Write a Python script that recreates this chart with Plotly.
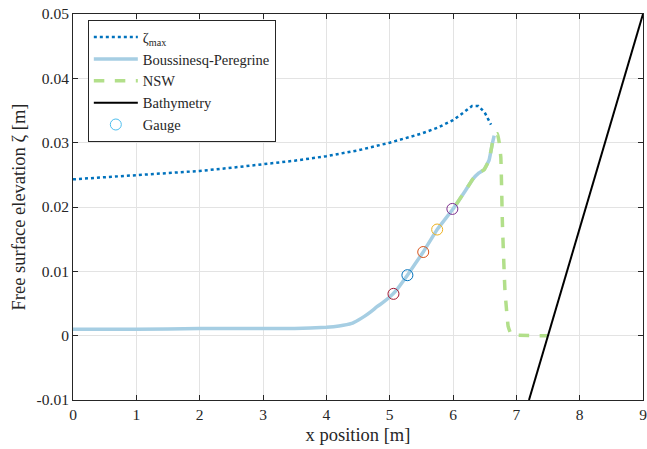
import plotly.graph_objects as go

# zeta_max envelope
zeta_x = [0, 0.5, 1, 1.5, 2, 2.5, 3, 3.5, 4, 4.5, 5, 5.25, 5.5, 5.75, 6.0, 6.1, 6.2, 6.3, 6.4, 6.5, 6.6]
zeta_y = [0.0243, 0.0246, 0.0249, 0.0252, 0.0256, 0.0261, 0.0266, 0.0272, 0.0279, 0.0288, 0.0300, 0.0307,
          0.0314, 0.0323, 0.0335, 0.0342, 0.0350, 0.0357, 0.0357, 0.0347, 0.0328]

# Boussinesq-Peregrine
bp_x = [0, 1, 2, 3, 3.5, 4, 4.2, 4.4, 4.5, 4.6, 4.7, 4.8, 4.9, 5.0, 5.1, 5.28, 5.53, 5.75, 6.0, 6.2,
        6.31, 6.41, 6.49, 6.57, 6.62, 6.65]
bp_y = [0.0010, 0.0010, 0.0011, 0.0011, 0.0011, 0.0013, 0.0015, 0.0019, 0.0024, 0.0030, 0.0037, 0.0045,
        0.0052, 0.0060, 0.0070, 0.0094, 0.0130, 0.0165, 0.0197, 0.0226, 0.0243, 0.0253, 0.0258, 0.0273,
        0.0298, 0.0311]

# NSW
nsw_x = [6.05, 6.2, 6.31, 6.41, 6.49, 6.57, 6.62, 6.66, 6.70, 6.73, 6.755, 6.78, 6.82, 6.85, 6.87, 6.91,
         6.96, 7.49]
nsw_y = [0.0204, 0.0226, 0.0243, 0.0253, 0.0258, 0.0273, 0.0298, 0.0312, 0.0314, 0.0300, 0.0277, 0.0175,
         0.0071, 0.0035, 0.0015, 0.0004, 0.0001, 0.0]

# Bathymetry
bathy_x = [7.20, 9.0]
bathy_y = [-0.01, 0.05]

# Gauges
gauge_x = [5.06, 5.28, 5.53, 5.75, 5.99]
gauge_y = [0.0065, 0.0094, 0.0130, 0.0165, 0.0197]
gauge_colors = ["#A2142F", "#0072BD", "#D95319", "#EDB120", "#7E2F8E"]

x_ticks = [0, 1, 2, 3, 4, 5, 6, 7, 8, 9]
y_ticks = [-0.01, 0, 0.01, 0.02, 0.03, 0.04, 0.05]
y_ticklabels = ["-0.01", "0", "0.01", "0.02", "0.03", "0.04", "0.05"]

FONT = "Liberation Serif"

fig = go.Figure()
fig.add_trace(go.Scatter(x=zeta_x, y=zeta_y, mode="lines", name="ζ<sub>max</sub>",
                         line=dict(color="#0072BD", width=2.5, dash="dot")))
fig.add_trace(go.Scatter(x=bp_x, y=bp_y, mode="lines", name="Boussinesq-Peregrine",
                         line=dict(color="#A6CEE3", width=3.5, shape="spline", smoothing=0.3)))
fig.add_trace(go.Scatter(x=nsw_x, y=nsw_y, mode="lines", name="NSW",
                         line=dict(color="#B2DF8A", width=3.5, dash="dash", shape="spline", smoothing=0.4)))
fig.add_trace(go.Scatter(x=bathy_x, y=bathy_y, mode="lines", name="Bathymetry",
                         line=dict(color="black", width=2)))
for gx, gy, gc in zip(gauge_x, gauge_y, gauge_colors):
    fig.add_trace(go.Scatter(x=[gx], y=[gy], mode="markers", showlegend=False,
                             marker=dict(symbol="circle-open", size=11, color=gc, line=dict(width=1))))
fig.add_trace(go.Scatter(x=[None], y=[None], mode="markers", name="Gauge",
                         marker=dict(symbol="circle-open", size=11, color="#4DBEEE", line=dict(width=1))))

axis_common = dict(showline=True, linecolor="#262626", linewidth=1, mirror="ticks",
                   ticks="inside", ticklen=5, tickcolor="#262626", automargin=False,
                   ticklabeloverflow="allow",
                   showgrid=True, gridcolor="#E3E3E3", gridwidth=1, zeroline=False,
                   tickfont=dict(family=FONT, size=15.5, color="#262626"))

fig.update_layout(
    width=647, height=449,
    margin=dict(l=73, r=4, t=14, b=49),
    paper_bgcolor="white", plot_bgcolor="white",
    font=dict(family=FONT, size=15.5, color="#262626"),
    showlegend=True,
    legend=dict(x=0.026, y=0.984, xanchor="left", yanchor="top",
                bgcolor="white", bordercolor="#262626", borderwidth=1,
                font=dict(family=FONT, size=14.5, color="#262626"),
                tracegroupgap=0, itemwidth=44),
    xaxis=dict(range=[0, 9], tickvals=x_ticks,
               title=dict(text="x position [m]", font=dict(family=FONT, size=18.5), standoff=6),
               **axis_common),
    yaxis=dict(range=[-0.01, 0.05], tickvals=y_ticks, ticktext=y_ticklabels,
               title=dict(text="Free surface elevation ζ [m]", font=dict(family=FONT, size=18.5), standoff=6),
               **axis_common),
)

fig.write_html("out.html", config={"displayModeBar": False},
               post_script="document.body.style.margin='0';document.body.style.overflow='hidden';")
